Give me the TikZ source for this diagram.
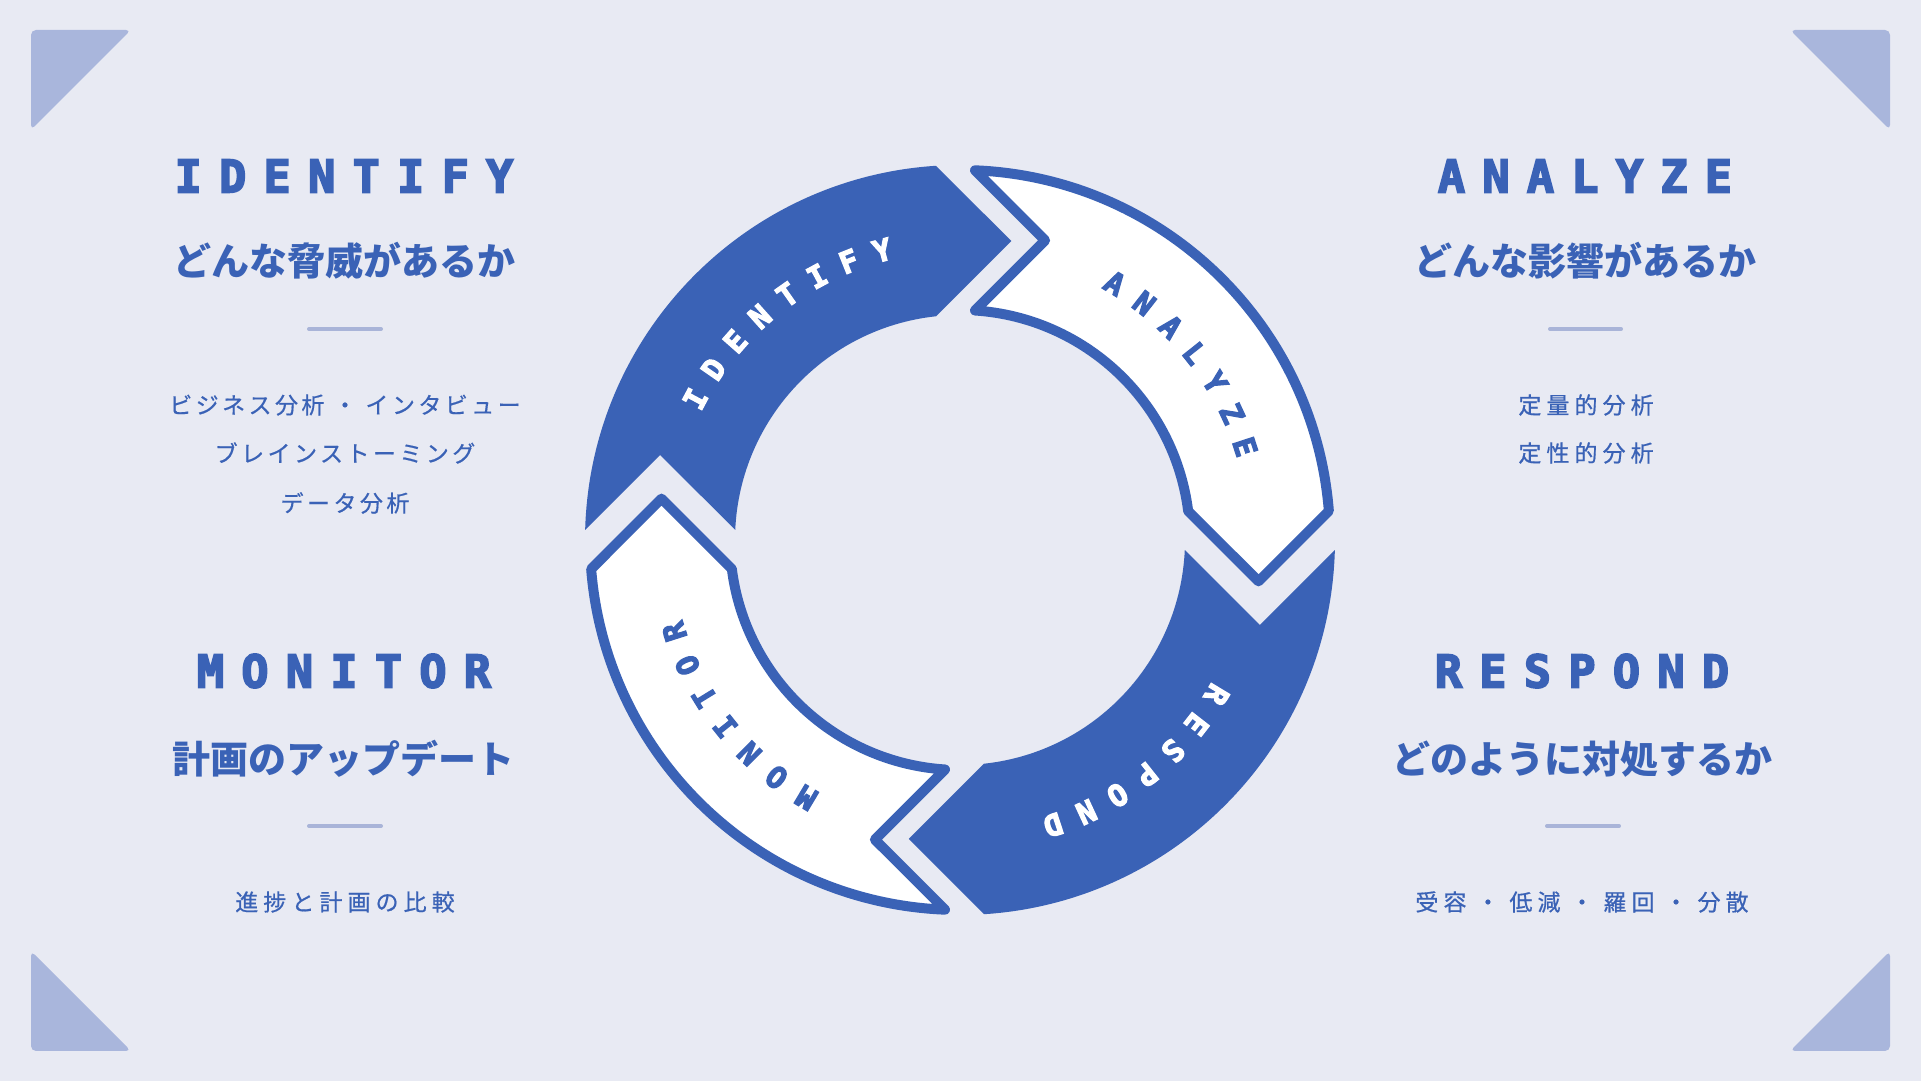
\documentclass[tikz,border=0pt]{standalone}
\usepackage{fontspec}
\newfontfamily\headfont{DejaVu Sans Mono}[FakeBold=4]
\newfontfamily\jp{Noto Sans CJK JP}
\definecolor{bg}{HTML}{E8EAF3}
\definecolor{mainblue}{HTML}{3A62B6}
\definecolor{tri}{HTML}{A9B6DC}
\definecolor{divc}{HTML}{A9B4D8}
\newlength\pitch
\def\mySpell#1{\mySpellAux#1\relax}
\def\mySpellAux#1{\ifx#1\relax\else\makebox[\pitch]{#1}\expandafter\mySpellAux\fi}
\newcommand\spaced[1]{\setlength\pitch{44.5pt}\mySpell{#1}}
\newcommand\ringword[6]{%
  \foreach \ch [count=\k from 0] in {#2} {%
    \pgfmathsetmacro\ang{#4+(#3-1)/2*#6-\k*#6}%
    \node[ringtxt, text=#5, rotate=\ang-90] (#1\k) at (\ang:300) {\ch};
  }}
\begin{document}
\begin{tikzpicture}[x=1pt,y=1pt,
  heading/.style={text=mainblue, inner sep=0pt, font={\headfont\bfseries\fontsize{45}{48}\selectfont}},
  subhead/.style={text=mainblue, inner sep=0pt, font={\jp\bfseries\fontsize{38}{44}\selectfont}},
  listtxt/.style={text=mainblue, inner sep=0pt, font={\jp\fontsize{23}{28}\selectfont\addfontfeature{LetterSpace=#1,FakeBold=0.6}}},
  listtxt/.default=22,
  ringtxt/.style={inner sep=0pt, font={\headfont\bfseries\fontsize{30}{34}\selectfont}},
  divider/.style={draw=divc, line width=4pt, line cap=round},
  corner/.style={fill=tri, rounded corners=5pt},
  bluepiece/.style={fill=mainblue},
  whitepiece/.style={fill=white, draw=mainblue, line width=10pt, line join=round},
]
\fill[bg] (0,0) rectangle (1921,1081);
\useasboundingbox (0,0) rectangle (1921,1081);
% corner triangles
\fill[corner] (31,1051) -- (131,1051) -- (31,951) -- cycle;
\fill[corner] (1890,1051) -- (1790,1051) -- (1890,951) -- cycle;
\fill[corner] (31,30) -- (131,30) -- (31,130) -- cycle;
\fill[corner] (1890,30) -- (1790,30) -- (1890,130) -- cycle;
% ring
\begin{scope}[shift={(960,541)}]
  % IDENTIFY (blue)
  \fill[bluepiece] (93.67:375) -- (51.26,298.97) -- (96.12:225)
     arc[start angle=96.12, end angle=177.45, radius=225pt] -- (-299.83,85.05) -- (178.47:375)
     arc[start angle=178.47, end angle=93.67, radius=375pt] -- cycle;
  % RESPOND (blue)
  \begin{scope}[rotate=180]
  \fill[bluepiece] (93.67:375) -- (51.26,298.97) -- (96.12:225)
     arc[start angle=96.12, end angle=177.45, radius=225pt] -- (-299.83,85.05) -- (178.47:375)
     arc[start angle=178.47, end angle=93.67, radius=375pt] -- cycle;
  \end{scope}
  % ANALYZE (white)
  \begin{scope}[rotate=-90]
  \draw[whitepiece] (94.50:370) -- (41.35,298.51) -- (97.24:230)
     arc[start angle=97.24, end angle=176.26, radius=230pt] -- (-299.60,85.10) -- (177.68:370)
     arc[start angle=177.68, end angle=94.50, radius=370pt] -- cycle;
  \end{scope}
  % MONITOR (white)
  \begin{scope}[rotate=90]
  \draw[whitepiece] (94.50:370) -- (41.35,298.51) -- (97.24:230)
     arc[start angle=97.24, end angle=176.26, radius=230pt] -- (-299.60,85.10) -- (177.68:370)
     arc[start angle=177.68, end angle=94.50, radius=370pt] -- cycle;
  \end{scope}
  \ringword{rid}{I,D,E,N,T,I,F,Y}{8}{128.5}{white}{6.7}
  \ringword{ran}{A,N,A,L,Y,Z,E}{7}{38.5}{mainblue}{6.8}
  \ringword{rre}{R,E,S,P,O,N,D}{7}{-51.5}{white}{6.8}
  \ringword{rmo}{M,O,N,I,T,O,R}{7}{-141.5}{mainblue}{6.9}
\end{scope}
% headings
\node[heading] (hid) at (344,905) {\spaced{IDENTIFY}};
\node[heading] (han) at (1585,905) {\spaced{ANALYZE}};
\node[heading] (hmo) at (344,410) {\spaced{MONITOR}};
\node[heading] (hre) at (1582,410) {\spaced{RESPOND}};
% subheadings
\node[subhead] (sid) at (344,820) {どんな脅威があるか};
\node[subhead] (san) at (1585,820) {どんな影響があるか};
\node[subhead] (smo) at (343,322) {計画のアップデート};
\node[subhead] (sre) at (1582,322) {どのように対処するか};
% dividers
\draw[divider] (309,752) -- (381,752);
\draw[divider] (1550,752) -- (1621,752);
\draw[divider] (309,255) -- (381,255);
\draw[divider] (1547,255) -- (1619,255);
% lists
\node[listtxt=15] (lid1) at (345,676) {ビジネス分析\hspace{9pt}・\hspace{9pt}インタビュー};
\node[listtxt=15] (lid2) at (345,628) {ブレインストーミング};
\node[listtxt=15] (lid3) at (345,578) {データ分析};
\node[listtxt] (lan1) at (1586,676) {定量的分析};
\node[listtxt] (lan2) at (1586,628) {定性的分析};
\node[listtxt] (lmo1) at (345,179) {進捗と計画の比較};
\node[listtxt] (lre1) at (1582,179) {受容\hspace{10pt}・\hspace{10pt}低減\hspace{10pt}・\hspace{10pt}羅回\hspace{10pt}・\hspace{10pt}分散};
\end{tikzpicture}
\end{document}
